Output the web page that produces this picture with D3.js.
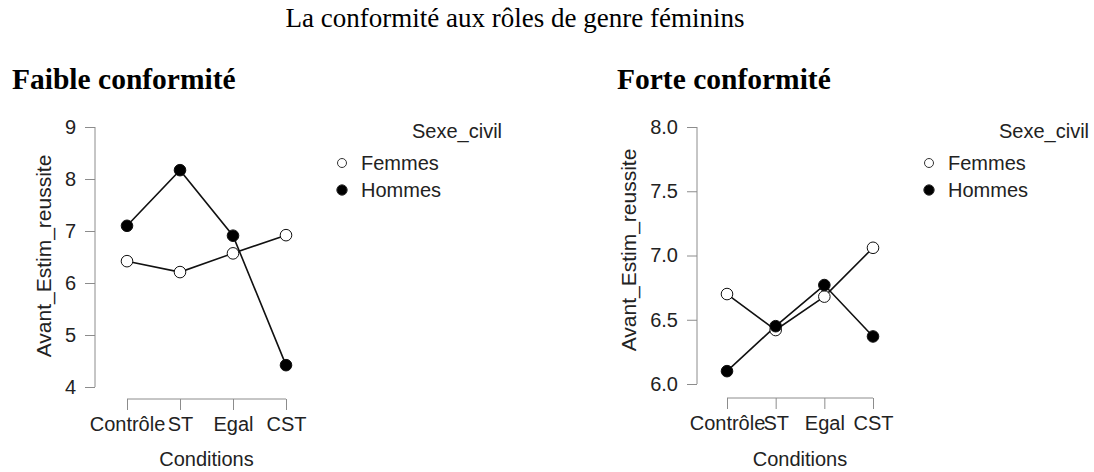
<!DOCTYPE html>
<html>
<head>
<meta charset="utf-8">
<script src="https://cdn.jsdelivr.net/npm/d3@7"></script>
<style>
  body { margin: 0; background: #fff; }
  text { font-family: "Liberation Sans", Arial, sans-serif; }
  .serif { font-family: "Liberation Serif", "Times New Roman", serif; }
</style>
</head>
<body>
<svg width="1094" height="472"></svg>
<script>
var svg = d3.select("svg");

// data
var conditions = ["Contrôle", "ST", "Egal", "CST"];
var groups = ["Femmes", "Hommes"];
var faibleFemmes = [6.42, 6.21, 6.57, 6.92];
var faibleHommes = [7.10, 8.17, 6.91, 4.42];
var forteFemmes = [6.70, 6.42, 6.68, 7.06];
var forteHommes = [6.10, 6.45, 6.77, 6.37];
var faibleTicks = [4, 5, 6, 7, 8, 9];
var forteTicks = [6.0, 6.5, 7.0, 7.5, 8.0];

svg.append("text").attr("class", "serif")
    .attr("x", 515).attr("y", 27)
    .attr("text-anchor", "middle")
    .style("font-size", "27px")
    .text("La conformité aux rôles de genre féminins");

function panel(opt) {
  var g = svg.append("g");
  var axisCol = "#8c8c8c";

  g.append("text").attr("class", "serif")
      .attr("x", opt.titleX).attr("y", 89)
      .style("font-size", "29.5px").style("font-weight", "bold")
      .text(opt.title);

  var x = d3.scalePoint().domain(conditions).range(opt.xRange);
  var y = d3.scaleLinear().domain(opt.yDomain).range(opt.yRange);

  // y axis
  var yAxis = g.append("g").attr("transform", "translate(" + opt.axisX + ",0)")
      .call(d3.axisLeft(y).tickValues(opt.ticks).tickFormat(opt.fmt).tickSize(10).tickPadding(9));
  // x axis
  var xAxis = g.append("g").attr("transform", "translate(0," + opt.axisY + ")")
      .call(d3.axisBottom(x).tickSize(11).tickPadding(7));
  [yAxis, xAxis].forEach(function(a) {
    a.selectAll(".tick line").attr("stroke", axisCol);
    a.selectAll(".tick text").attr("fill", "#222").style("font-size", "20px")
        .style("font-family", "'Liberation Sans', Arial, sans-serif");
  });
  // R style axis lines spanning first to last tick
  yAxis.select(".domain").remove();
  xAxis.select(".domain").remove();
  g.append("line").attr("x1", opt.axisX).attr("x2", opt.axisX)
      .attr("y1", y(opt.yDomain[0])).attr("y2", y(opt.yDomain[1]))
      .attr("stroke", axisCol);
  g.append("line").attr("y1", opt.axisY).attr("y2", opt.axisY)
      .attr("x1", x(conditions[0])).attr("x2", x(conditions[3]))
      .attr("stroke", axisCol);

  g.append("text")
      .attr("transform", "translate(" + opt.ylabX + "," + opt.ylabY + ") rotate(-90)")
      .attr("text-anchor", "middle").attr("fill", "#222")
      .style("font-size", "21px")
      .text("Avant_Estim_reussite");
  g.append("text")
      .attr("x", (opt.xRange[0] + opt.xRange[1]) / 2).attr("y", 466)
      .attr("text-anchor", "middle").attr("fill", "#222")
      .style("font-size", "20px")
      .text("Conditions");

  var line = d3.line().x(function(d, i) { return x(conditions[i]); })
      .y(function(d) { return y(d); });
  var series = [
    { name: "Femmes", values: opt.femmes, fill: "#fff" },
    { name: "Hommes", values: opt.hommes, fill: "#000" }
  ];
  series.forEach(function(s) {
    g.append("path").datum(s.values).attr("d", line)
        .attr("fill", "none").attr("stroke", "#111").attr("stroke-width", 1.6);
  });
  series.forEach(function(s) {
    g.selectAll(null).data(s.values).enter().append("circle")
        .attr("cx", function(d, i) { return x(conditions[i]); })
        .attr("cy", function(d) { return y(d); })
        .attr("r", 5.8)
        .attr("fill", s.fill).attr("stroke", "#111").attr("stroke-width", 1);
  });

  // legend
  g.append("text").attr("x", opt.legX + 70).attr("y", 138)
      .attr("fill", "#222")
      .style("font-size", "20px").text("Sexe_civil");
  groups.forEach(function(name, i) {
    var cy = 163 + i * 27;
    g.append("circle").attr("cx", opt.legX).attr("cy", cy)
        .attr("r", i === 0 ? 4.5 : 5.2)
        .attr("fill", i === 0 ? "#fff" : "#000").attr("stroke", "#333").attr("stroke-width", 1);
    g.append("text").attr("x", opt.legX + 19).attr("y", cy + 7)
        .attr("fill", "#222").style("font-size", "20px").text(name);
  });
}

panel({
  title: "Faible conformité", titleX: 12,
  xRange: [127, 286], yDomain: [4, 9], yRange: [387, 127],
  ticks: faibleTicks, fmt: d3.format("d"),
  axisX: 95, axisY: 399, ylabX: 51, ylabY: 256,
  femmes: faibleFemmes, hommes: faibleHommes, legX: 342
});

panel({
  title: "Forte conformité", titleX: 617,
  xRange: [727, 873], yDomain: [6, 8], yRange: [384, 127],
  ticks: forteTicks, fmt: d3.format(".1f"),
  axisX: 697, axisY: 398, ylabX: 636, ylabY: 250,
  femmes: forteFemmes, hommes: forteHommes, legX: 929
});
</script>
</body>
</html>
